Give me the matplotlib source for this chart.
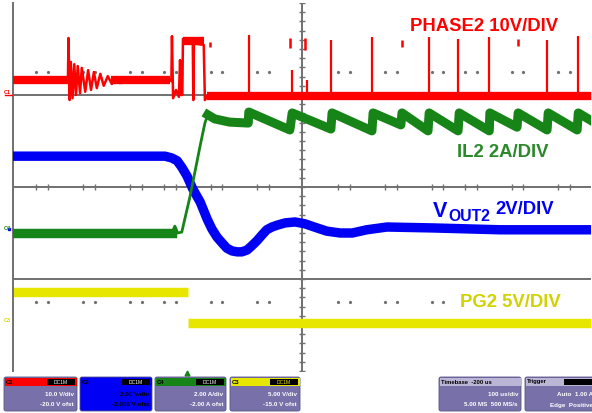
import numpy as np
import matplotlib.pyplot as plt
from matplotlib.patches import FancyBboxPatch, Rectangle

plt.rcParams['font.family'] = ['Liberation Sans', 'DejaVu Sans']

# screen units: time in divisions (0 = centre), amplitude in divisions
# PHASE2 (C1) trace breakpoints
phase_t = [-5.00, -4.05, -4.04, -4.02, -4.00, -3.97, -3.94, -3.91, -3.88, -3.84, -3.81,
           -3.75, -3.70, -3.65, -3.60, -3.55, -3.49, -3.43, -3.36, -3.29, -3.22, -3.15,
           -3.06, -2.98, -2.28, -2.26, -2.25, -2.23, -2.18, -2.13, -2.11, -2.09, -2.07,
           -2.06, -1.89, -1.88, -1.87, -1.70, -1.68, -1.64, 5.00]
phase_v = [2.33, 2.33, 3.24, 1.89, 2.72, 1.93, 2.67, 2.00, 2.63, 2.04, 2.59,
           2.07, 2.54, 2.11, 2.50, 2.15, 2.46, 2.20, 2.41, 2.24, 2.39, 2.26,
           2.37, 2.33, 2.33, 2.30, 3.28, 1.93, 2.11, 1.96, 2.76, 2.00, 2.00,
           3.22, 3.15, 1.89, 3.12, 3.09, 1.89, 1.98, 1.98]
# noisy bands of the PHASE2 trace (start, end, level)
phase_band_t0 = [-5.00, -3.30, -2.06, -1.64]
phase_band_t1 = [-4.05, -2.28, -1.70, 5.00]
phase_band_v = [2.33, 2.33, 3.17, 1.98]
# switching spikes from the low level
spike_t = [-0.92, -0.17, 0.09, 0.50, 1.21, 2.20, 2.70, 3.24, 4.24, 4.78]
spike_top = [3.30, 2.54, 2.33, 3.20, 3.26, 3.26, 3.22, 3.26, 3.20, 3.28]
# short floating marks near the top
mark_t = [-1.59, -0.21, 0.05, 1.73, 3.74]
mark_lo = [3.04, 3.02, 2.98, 3.04, 3.07]
mark_hi = [3.15, 3.24, 3.24, 3.20, 3.22]

# IL2 (C4) inductor current
il_t = [-5.00, -2.25, -2.20, -2.15, -2.08, -1.94, -1.76, -1.68, -1.63, -1.51, -1.25,
        -0.93, -0.92, -0.21, -0.17, 0.50, 0.52, 1.21, 1.23, 1.71, 1.73, 2.18, 2.20,
        2.70, 2.72, 3.24, 3.25, 3.72, 3.74, 4.24, 4.26, 4.76, 4.78, 5.02]
il_v = [-1.00, -1.00, -0.85, -1.00, -0.98, -0.22, 0.91, 1.39, 1.57, 1.48, 1.41,
        1.39, 1.63, 1.24, 1.61, 1.26, 1.61, 1.22, 1.61, 1.35, 1.61, 1.22, 1.61,
        1.22, 1.61, 1.22, 1.61, 1.30, 1.61, 1.24, 1.61, 1.24, 1.61, 1.43]

# VOUT2 (C2) output voltage
vout_t = [-5.00, -2.37, -2.25, -2.16, -2.08, -1.99, -1.89, -1.76, -1.64, -1.56, -1.47,
          -1.38, -1.30, -1.21, -1.12, -1.04, -0.95, -0.87, -0.78, -0.69, -0.61, -0.52,
          -0.43, -0.29, -0.12, 0.05, 0.26, 0.43, 0.66, 0.87, 1.12, 1.47, 2.27, 3.43, 5.02]
vout_v = [0.67, 0.67, 0.63, 0.57, 0.43, 0.24, -0.04, -0.33, -0.70, -0.91, -1.09,
          -1.22, -1.33, -1.39, -1.41, -1.41, -1.37, -1.28, -1.17, -1.04, -0.93, -0.87,
          -0.83, -0.78, -0.76, -0.80, -0.89, -0.96, -1.00, -1.00, -0.93, -0.87, -0.89,
          -0.93, -0.93]

# PG2 (C3) power good: two levels split at the drop
pg_t0 = [-5.00, -1.97]
pg_t1 = [-1.97, 5.02]
pg_v = [-2.28, -2.96]

# graticule
grid_v = [2.0, 0.0, -2.0]
dot_t = [-4.60, -4.39, -3.79, -3.58, -2.98, -2.77, -2.39, -2.18, -1.57, -1.38, -0.78, -0.57,
         0.62, 0.83, 1.44, 1.64, 2.25, 2.44, 2.82, 3.03, 3.63, 3.82, 4.43, 4.64]
tick_v = np.arange(-4.0, 4.01, 0.2)

RED = '#FF0000'
GREEN = '#168416'
BLUE = '#0000F5'
YELLOW = '#E6E600'
GRAY = '#707070'

fig = plt.figure(figsize=(5.92, 4.13), dpi=100)
ax = fig.add_axes([13 / 592, 42 / 413, 578 / 592, 368 / 413])
ax.set_xlim(-5, 5)
ax.set_ylim(-4, 4)
ax.set_xticks([])
ax.set_yticks([])
for s in ['top', 'right', 'bottom']:
    ax.spines[s].set_visible(False)
ax.spines['left'].set_color(GRAY)
ax.spines['left'].set_linewidth(1.4)

# graticule
ax.hlines(grid_v, -5, 5, color=GRAY, lw=1.4, zorder=1)
ax.axvline(0, color=GRAY, lw=1.4, zorder=1)
ax.plot(np.zeros_like(tick_v), tick_v, ls='none', marker='_', ms=4.5, mew=1.0, color=GRAY, zorder=1)
ax.plot(dot_t, np.zeros(len(dot_t)), ls='none', marker='|', ms=4.5, mew=1.0, color=GRAY, zorder=1)
ax.plot(dot_t, [2.5] * len(dot_t), ls='none', marker='o', ms=1.3, color=GRAY, zorder=1)
low_dots = [d for d in dot_t if d < 2.6]
ax.plot(low_dots, [-2.5] * len(low_dots), ls='none', marker='o', ms=1.3, color=GRAY, zorder=1)

# PG2
ax.hlines(pg_v, pg_t0, pg_t1, color=YELLOW, lw=6.8, zorder=2)

# VOUT2
ax.plot(vout_t, vout_v, color=BLUE, lw=6.8, solid_joinstyle='round', zorder=3)

# IL2
il_t_arr = np.array(il_t)
il_v_arr = np.array(il_v)
ax.plot(il_t, il_v, color=GREEN, lw=2.0, zorder=4)
pre = il_t_arr <= -2.25
post = il_t_arr >= -1.63
ax.plot(il_t_arr[pre], il_v_arr[pre], color=GREEN, lw=6.8, zorder=4)
ax.plot(il_t_arr[post], il_v_arr[post], color=GREEN, lw=6.5, solid_joinstyle='round', zorder=4)

# PHASE2
ax.plot(phase_t, phase_v, color=RED, lw=1.8, zorder=5)
ax.hlines(phase_band_v, phase_band_t0, phase_band_t1, color=RED, lw=6.0, zorder=5)
ax.vlines(spike_t, phase_band_v[-1], spike_top, color=RED, lw=1.6, zorder=5)
ax.vlines(mark_t, mark_lo, mark_hi, color=RED, lw=1.8, zorder=5)

# channel labels
fs = 13.3
ax.text(1.87, 3.39, 'PHASE2 10V/DIV', color=RED, fontsize=fs, fontweight='bold', va='baseline')
ax.text(2.68, 0.65, 'IL2 2A/DIV', color='#2A8A2A', fontsize=fs, fontweight='bold', va='baseline')
ax.text(2.27, -0.65, 'V', color=BLUE, fontsize=15.5, fontweight='bold', va='baseline')
ax.text(2.54, -0.74, 'OUT2', color=BLUE, fontsize=11.3, fontweight='bold', va='baseline')
ax.text(3.34, -0.59, '2V/DIV', color=BLUE, fontsize=fs, fontweight='bold', va='baseline')
ax.text(2.73, -2.61, 'PG2 5V/DIV', color='#D2D200', fontsize=fs, fontweight='bold', va='baseline')

# scope user interface, in screen pixels
ui = fig.add_axes([0, 0, 1, 1])
ui.set_xlim(0, 592)
ui.set_ylim(413, 0)
ui.axis('off')
ui.patch.set_alpha(0)

# channel ground markers at the left edge
ui.text(4, 92, 'C1', color=RED, fontsize=4, fontweight='bold', va='center')
ui.plot([5, 12], [95, 95], color=RED, lw=1)
ui.text(4, 228, 'C4', color=GREEN, fontsize=4, fontweight='bold', va='center')
ui.plot([9], [229], marker='s', ms=1.5, color=BLUE)
ui.text(4, 321, 'C3', color='#D2D200', fontsize=4, fontweight='bold', va='center')
# trigger position marker
ui.plot([187], [373], marker='^', ms=3.5, color=GREEN)

LAV = '#7870A8'
HEAD = '#BCB6D6'
boxes = [
    (4, 77, RED, 'C1', ['10.0 V/div', '-20.0 V ofst']),
    (80, 152, BLUE, 'C2', ['2.00 V/div', '-2.000 V ofst']),
    (155, 226, GREEN, 'C4', ['2.00 A/div', '-2.00 A ofst']),
    (230, 300, YELLOW, 'C3', ['5.00 V/div', '-15.0 V ofst']),
    (439, 521, HEAD, 'Timebase  -200 us', ['100 us/div', '5.00 MS  500 MS/s']),
    (525, 596, HEAD, 'Trigger', ['Auto  1.00 A', 'Edge  Positive']),
]
for x0, x1, hc, title, lines in boxes:
    body = LAV if hc != BLUE else BLUE
    ui.add_patch(FancyBboxPatch((x0, 377), x1 - x0, 34, boxstyle='round,pad=0,rounding_size=2',
                                fc=body, ec='#5A5488', lw=0.6))
    ui.add_patch(Rectangle((x0 + 0.5, 377.5), x1 - x0 - 1, 8.5, fc=hc, ec='none'))
    ui.text(x0 + 2, 382, title, fontsize=4.2, color='black', va='center', fontweight='bold')
    if hc != HEAD:
        ui.add_patch(Rectangle((x1 - 30, 379), 28, 6, fc='black', ec='none'))
        ui.text(x1 - 16, 382, 'DC1M', fontsize=3.6, color='white' if hc != YELLOW else YELLOW,
                ha='center', va='center')
    elif title == 'Trigger':
        ui.add_patch(Rectangle((x1 - 32, 379), 30, 6, fc='black', ec='none'))
    txt_c = 'white' if body == LAV else 'black'
    ui.text(x1 - 3, 395, lines[0], fontsize=4.5, color=txt_c, ha='right', va='center', fontweight='bold')
    ui.text(x1 - 3, 405, lines[1], fontsize=4.5, color=txt_c, ha='right', va='center', fontweight='bold')

fig.savefig('out.png', dpi=100)
